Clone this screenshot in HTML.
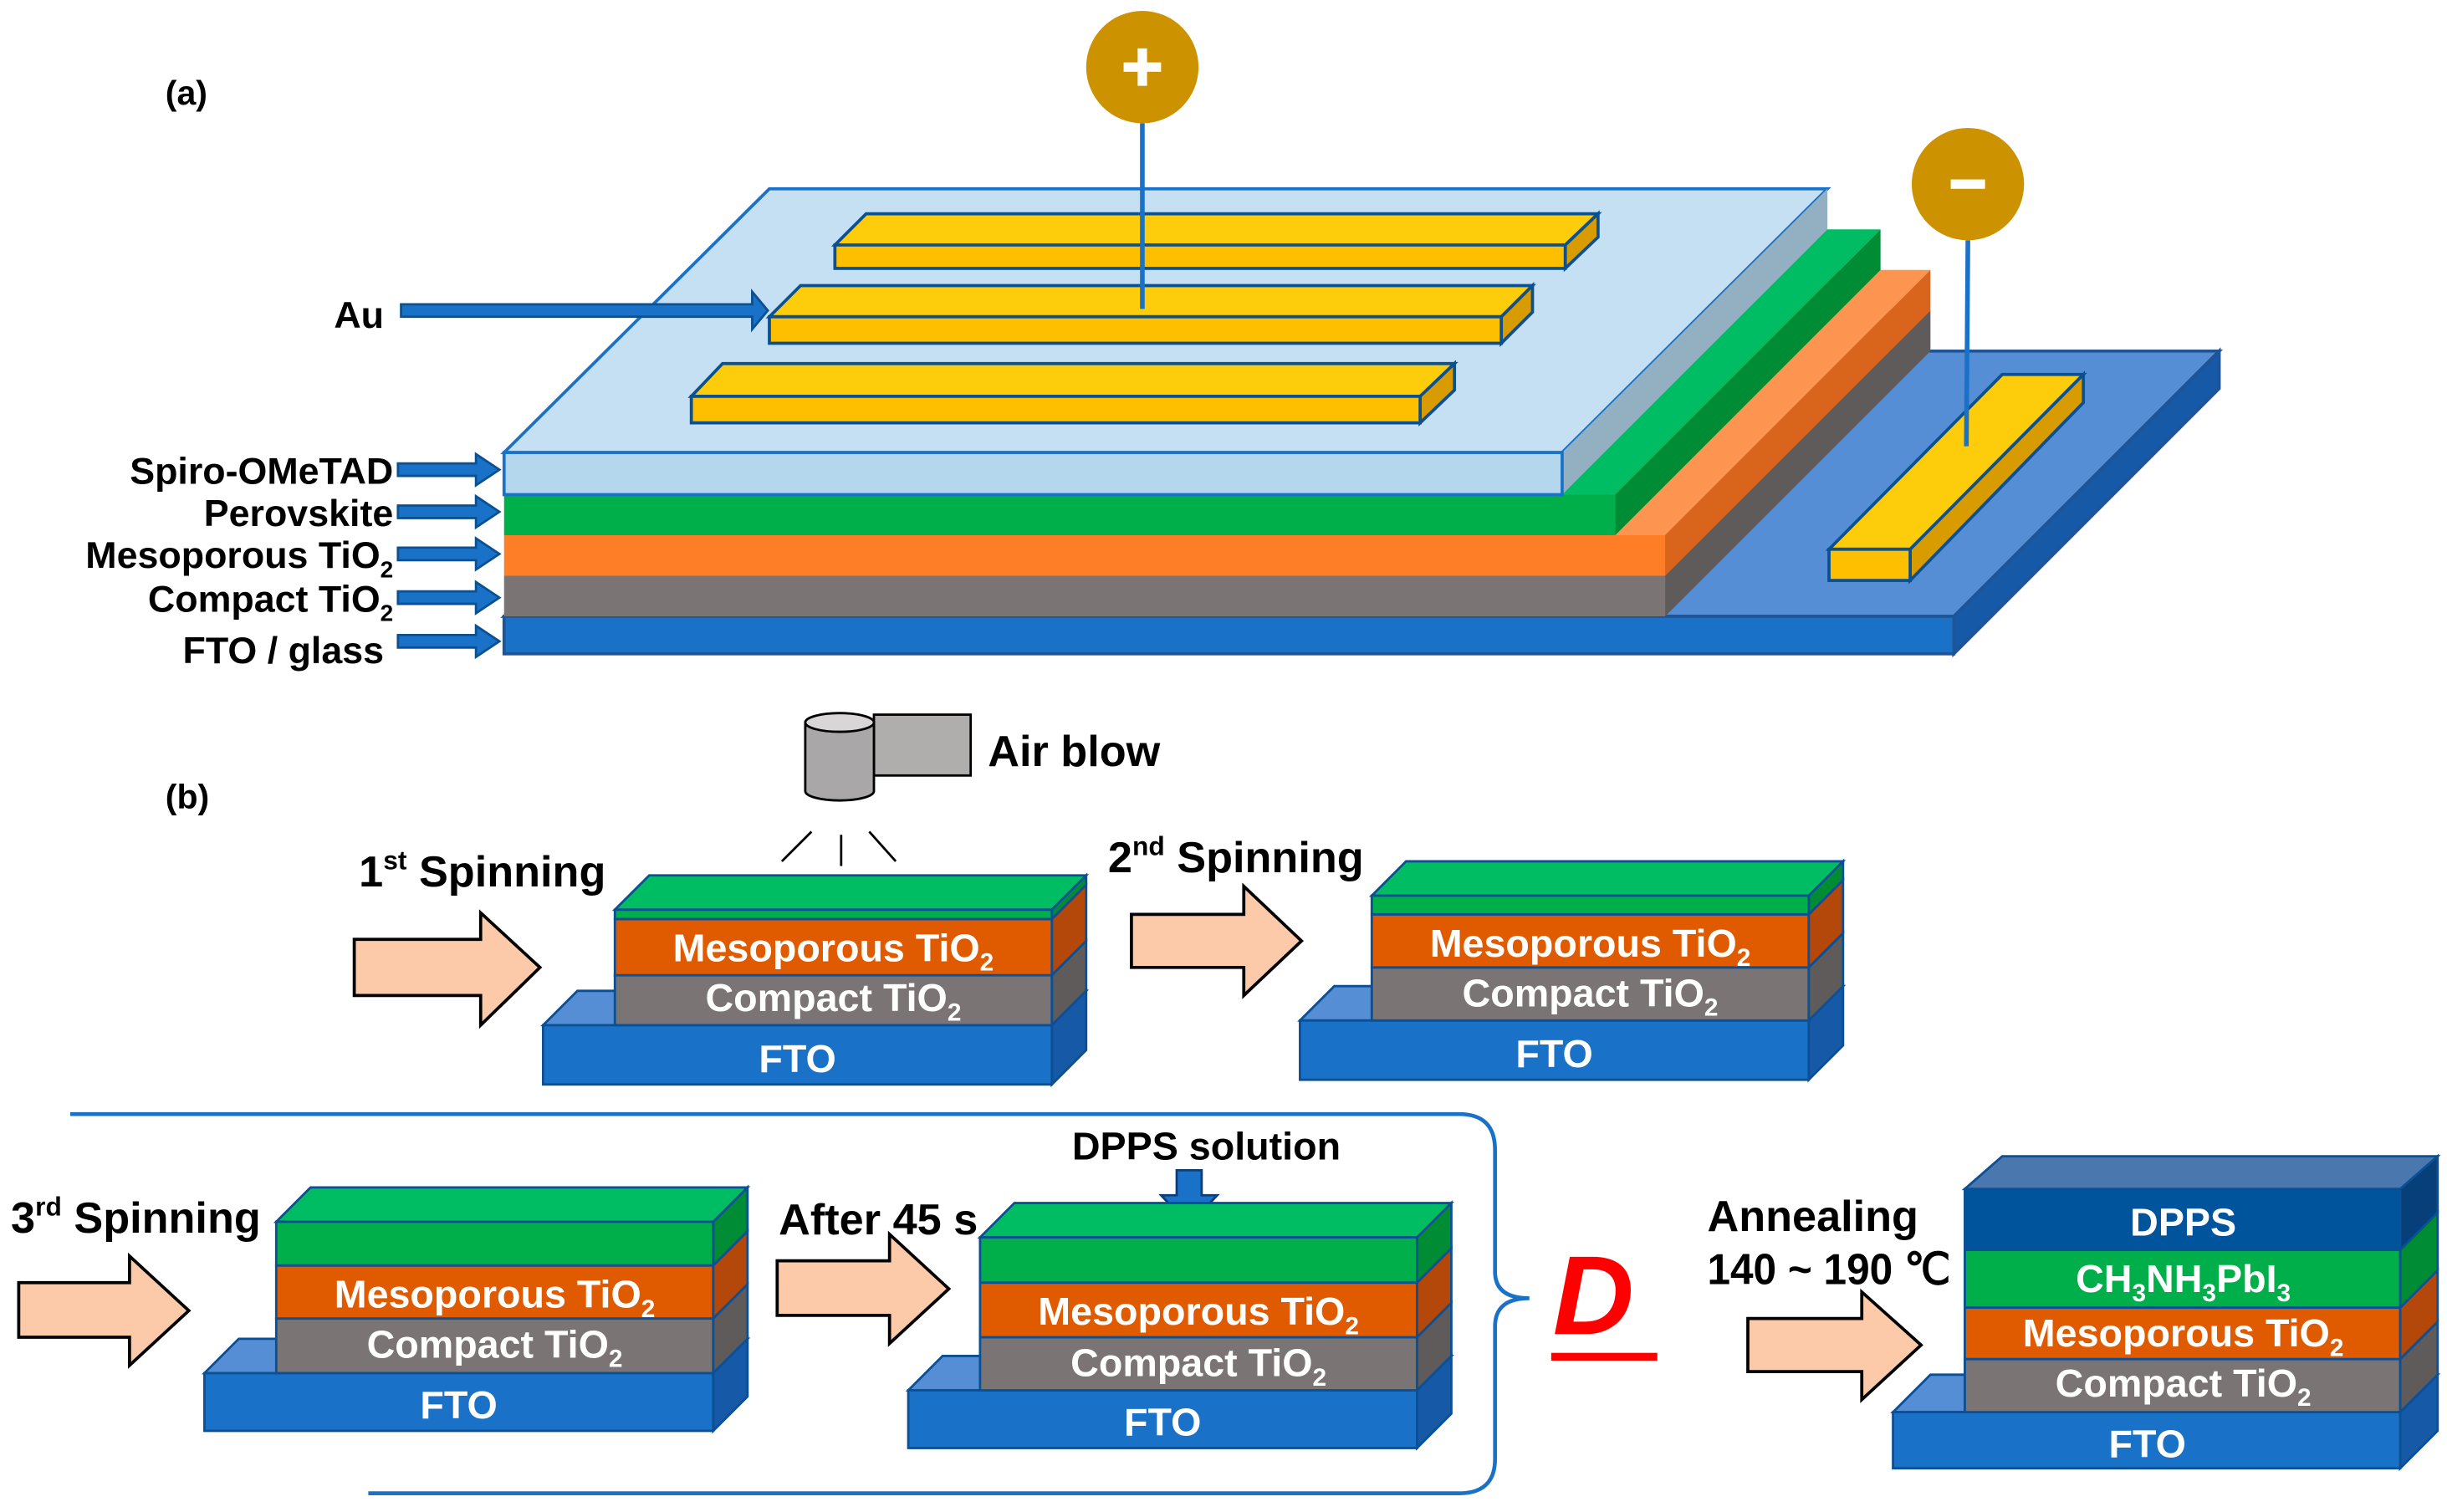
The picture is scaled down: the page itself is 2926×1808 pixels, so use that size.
<!DOCTYPE html>
<html><head><meta charset="utf-8"><style>html,body{margin:0;padding:0;background:#fff}svg{display:block}text{font-family:"Liberation Sans",sans-serif;font-weight:bold}</style></head>
<body>
<svg width="2926" height="1808" viewBox="0 0 1568 969" preserveAspectRatio="none" xmlns="http://www.w3.org/2000/svg">
<g stroke-linejoin="miter">
<polygon points="323,395 1252,395 1422,225 495,225" fill="#558ed5" stroke="#1f5597" stroke-width="2"/>
<polygon points="1252,395 1422,225 1422,249 1252,419" fill="#1659a6" stroke="#1f5597" stroke-width="2"/>
<rect x="323" y="395" width="929" height="24" fill="#1a72c8" stroke="#1f5597" stroke-width="2"/>
<polygon points="323,369 1067,369 1237,199 493,199" fill="#7a7474"/>
<polygon points="1067,369 1237,199 1237,225 1067,395" fill="#5f5b5b"/>
<rect x="323" y="369" width="744" height="26" fill="#7a7474"/>
<polygon points="323,343 1067,343 1237,173 493,173" fill="#fd9450"/>
<polygon points="1067,343 1237,173 1237,199 1067,369" fill="#d9651c"/>
<rect x="323" y="343" width="744" height="26" fill="#fd7e26"/>
<polygon points="323,317 1035,317 1205,147 493,147" fill="#00bd64"/>
<polygon points="1035,317 1205,147 1205,173 1035,343" fill="#008c35"/>
<rect x="323" y="317" width="712" height="26" fill="#00af4a"/>
<polygon points="323,290 1001,290 1171,121 493,121" fill="#c4e0f2" stroke="#1a72c8" stroke-width="2"/>
<polygon points="1001,290 1171,121 1171,147 1001,317" fill="#93afc2"/>
<rect x="323" y="290" width="678" height="27" fill="#b4d7ee" stroke="#1a72c8" stroke-width="2"/>
<g stroke="#0b5091" stroke-width="2">
<polygon points="535,157 555,137 1024,137 1003,157" fill="#fdcc0a"/>
<polygon points="1003,157 1024,137 1024,152 1003,172" fill="#d99c00"/>
<rect x="535" y="157" width="468" height="15" fill="#fdbf00"/>
<polygon points="493,203 513,183 982,183 962,203" fill="#fdcc0a"/>
<polygon points="962,203 982,183 982,200 962,220" fill="#d99c00"/>
<rect x="493" y="203" width="469" height="17" fill="#fdbf00"/>
<polygon points="443,254 463,233 932,233 910,254" fill="#fdcc0a"/>
<polygon points="910,254 932,233 932,250 910,271" fill="#d99c00"/>
<rect x="443" y="254" width="467" height="17" fill="#fdbf00"/>
<polygon points="1172,352 1283,240 1335,240 1224,352" fill="#fdcc0a"/>
<polygon points="1224,352 1335,240 1335,258 1224,372" fill="#d99c00"/>
<rect x="1172" y="352" width="52" height="20" fill="#fdbf00"/>
</g>
<line x1="732" y1="79" x2="732" y2="198" stroke="#1a72c8" stroke-width="3"/>
<line x1="1261" y1="154" x2="1260" y2="286" stroke="#1a72c8" stroke-width="3"/>
<circle cx="732" cy="43" r="36" fill="#cc9200"/>
<circle cx="1261" cy="118" r="36" fill="#cc9200"/>
<rect x="720" y="40" width="24" height="6" fill="#fff"/><rect x="729" y="31" width="6" height="24" fill="#fff"/>
<rect x="1250" y="115" width="22" height="6" fill="#fff"/>
<g fill="#1a72c8" stroke="#0b5091" stroke-width="1.5">
<polygon points="257,195 482,195 482,187 492,199 482,211 482,203 257,203"/>
<polygon points="255,297 305,297 305,291 320,301 305,311 305,305 255,305"/>
<polygon points="255,324 305,324 305,318 320,328 305,338 305,332 255,332"/>
<polygon points="255,351 305,351 305,345 320,355 305,365 305,359 255,359"/>
<polygon points="255,379 305,379 305,373 320,383 305,393 305,387 255,387"/>
<polygon points="255,407 305,407 305,401 320,411 305,421 305,415 255,415"/>
</g>
<g font-size="22" fill="#000">
<text x="106" y="67">(a)</text>
<text x="106" y="518">(b)</text>
</g>
<g font-size="24" fill="#000">
<text x="214" y="210">Au</text>
<text x="252" y="310" text-anchor="end">Spiro-OMeTAD</text>
<text x="252" y="337" text-anchor="end">Perovskite</text>
<text x="252" y="364" text-anchor="end">Mesoporous TiO<tspan font-size="15" dy="6">2</tspan></text>
<text x="252" y="392" text-anchor="end">Compact TiO<tspan font-size="15" dy="6">2</tspan></text>
<text x="246" y="425" text-anchor="end">FTO / glass</text>
</g>
<g font-size="28" fill="#000">
<text x="230" y="568">1<tspan font-size="17" dy="-11">st</tspan><tspan dy="11"> Spinning</tspan></text>
<text x="710" y="559">2<tspan font-size="17" dy="-11">nd</tspan><tspan dy="11"> Spinning</tspan></text>
<text x="7" y="790">3<tspan font-size="17" dy="-11">rd</tspan><tspan dy="11"> Spinning</tspan></text>
<text x="499" y="791">After 45 s</text>
<text x="773" y="743" text-anchor="middle" font-size="25">DPPS solution</text>
<text x="1094" y="789">Annealing</text>
<text x="1094" y="823" textLength="156" lengthAdjust="spacingAndGlyphs">140 ~ 190 ℃</text>
<text x="633" y="491">Air blow</text>
</g>
<rect x="560" y="458" width="62" height="39" fill="#b0adad" stroke="#000" stroke-width="1.5"/>
<path d="M516,463 L516,507 A22,6 0 0 0 560,507 L560,463" fill="#a9a7a7" stroke="#000" stroke-width="1.5"/>
<ellipse cx="538" cy="463" rx="22" ry="6" fill="#d8d6d6" stroke="#000" stroke-width="1.5"/>
<g stroke="#000" stroke-width="1.5"><line x1="520" y1="533" x2="501" y2="552"/><line x1="539" y1="535" x2="539" y2="555"/><line x1="557" y1="533" x2="574" y2="552"/></g>
<g fill="#fccaa9" stroke="#000" stroke-width="2">
<polygon points="227,602 308,602 308,585 346,620 308,657 308,638 227,638"/>
<polygon points="725,586 797,586 797,568 834,603 797,638 797,620 725,620"/>
<polygon points="12,822 83,822 83,805 121,840 83,875 83,857 12,857"/>
<polygon points="498,808 570,808 570,791 608,826 570,861 570,843 498,843"/>
<polygon points="1120,845 1193,845 1193,828 1231,862 1193,897 1193,879 1120,879"/>
</g>
<path d="M45,714 L935,714 Q958,714 958,737 L958,815 Q958,832 980,832 Q958,832 958,850 L958,935 Q958,957 935,957 L236,957" fill="none" stroke="#1a72c8" stroke-width="2.5"/>
<text x="995" y="855" font-size="72" font-style="italic" fill="#ff0000">D</text>
<rect x="994" y="867" width="68" height="5" fill="#ff0000"/>
<polygon points="754,750 770,750 770,766 780,766 762,785 744,766 754,766" fill="#1a72c8" stroke="#0b3f7a" stroke-width="1.5"/>
<g stroke="#0b4f95" stroke-width="1.5">
<polygon points="348,657 674,657 696,635 370,635" fill="#558ed5"/>
<polygon points="674,657 696,635 696,673 674,695" fill="#1659a6"/>
<rect x="348" y="657" width="326" height="38" fill="#1a72c8"/>
<polygon points="674,625 696,603 696,635 674,657" fill="#5f5b5b"/>
<rect x="394" y="625" width="280" height="32" fill="#7a7474"/>
<polygon points="674,589 696,567 696,603 674,625" fill="#b4480a"/>
<rect x="394" y="589" width="280" height="36" fill="#e05a00"/>
<polygon points="394,583 674,583 696,561 416,561" fill="#00bd64"/>
<polygon points="674,583 696,561 696,567 674,589" fill="#008c35"/>
<rect x="394" y="583" width="280" height="6" fill="#00af4a"/>
<polygon points="833,654 1159,654 1181,632 855,632" fill="#558ed5"/>
<polygon points="1159,654 1181,632 1181,670 1159,692" fill="#1659a6"/>
<rect x="833" y="654" width="326" height="38" fill="#1a72c8"/>
<polygon points="1159,620 1181,598 1181,632 1159,654" fill="#5f5b5b"/>
<rect x="879" y="620" width="280" height="34" fill="#7a7474"/>
<polygon points="1159,586 1181,564 1181,598 1159,620" fill="#b4480a"/>
<rect x="879" y="586" width="280" height="34" fill="#e05a00"/>
<polygon points="879,574 1159,574 1181,552 901,552" fill="#00bd64"/>
<polygon points="1159,574 1181,552 1181,564 1159,586" fill="#008c35"/>
<rect x="879" y="574" width="280" height="12" fill="#00af4a"/>
<polygon points="131,880 457,880 479,858 153,858" fill="#558ed5"/>
<polygon points="457,880 479,858 479,895 457,917" fill="#1659a6"/>
<rect x="131" y="880" width="326" height="37" fill="#1a72c8"/>
<polygon points="457,845 479,823 479,858 457,880" fill="#5f5b5b"/>
<rect x="177" y="845" width="280" height="35" fill="#7a7474"/>
<polygon points="457,811 479,789 479,823 457,845" fill="#b4480a"/>
<rect x="177" y="811" width="280" height="34" fill="#e05a00"/>
<polygon points="177,783 457,783 479,761 199,761" fill="#00bd64"/>
<polygon points="457,783 479,761 479,789 457,811" fill="#008c35"/>
<rect x="177" y="783" width="280" height="28" fill="#00af4a"/>
<polygon points="582,891 908,891 930,869 604,869" fill="#558ed5"/>
<polygon points="908,891 930,869 930,906 908,928" fill="#1659a6"/>
<rect x="582" y="891" width="326" height="37" fill="#1a72c8"/>
<polygon points="908,857 930,835 930,869 908,891" fill="#5f5b5b"/>
<rect x="628" y="857" width="280" height="34" fill="#7a7474"/>
<polygon points="908,822 930,800 930,835 908,857" fill="#b4480a"/>
<rect x="628" y="822" width="280" height="35" fill="#e05a00"/>
<polygon points="628,793 908,793 930,771 650,771" fill="#00bd64"/>
<polygon points="908,793 930,771 930,800 908,822" fill="#008c35"/>
<rect x="628" y="793" width="280" height="29" fill="#00af4a"/>
<polygon points="1213,905 1538,905 1562,881 1237,881" fill="#558ed5"/>
<polygon points="1538,905 1562,881 1562,917 1538,941" fill="#1659a6"/>
<rect x="1213" y="905" width="325" height="36" fill="#1a72c8"/>
<polygon points="1538,871 1562,847 1562,881 1538,905" fill="#5f5b5b"/>
<rect x="1259" y="871" width="279" height="34" fill="#7a7474"/>
<polygon points="1538,838 1562,814 1562,847 1538,871" fill="#b4480a"/>
<rect x="1259" y="838" width="279" height="33" fill="#e05a00"/>
<polygon points="1538,801 1562,777 1562,814 1538,838" fill="#008c35"/>
<rect x="1259" y="801" width="279" height="37" fill="#00af4a"/>
<polygon points="1259,762 1538,762 1562,741 1283,741" fill="#4a78ae"/>
<polygon points="1538,762 1562,741 1562,777 1538,801" fill="#063f7a"/>
<rect x="1259" y="762" width="279" height="39" fill="#00549c"/>
</g>
<g font-size="25" fill="#fff" text-anchor="middle">
<text x="534" y="616">Mesoporous TiO<tspan font-size="16" dy="6">2</tspan></text>
<text x="534" y="648">Compact TiO<tspan font-size="16" dy="6">2</tspan></text>
<text x="511" y="687">FTO</text>
<text x="1019" y="613">Mesoporous TiO<tspan font-size="16" dy="6">2</tspan></text>
<text x="1019" y="645">Compact TiO<tspan font-size="16" dy="6">2</tspan></text>
<text x="996" y="684">FTO</text>
<text x="317" y="838">Mesoporous TiO<tspan font-size="16" dy="6">2</tspan></text>
<text x="317" y="870">Compact TiO<tspan font-size="16" dy="6">2</tspan></text>
<text x="294" y="909">FTO</text>
<text x="768" y="849">Mesoporous TiO<tspan font-size="16" dy="6">2</tspan></text>
<text x="768" y="882">Compact TiO<tspan font-size="16" dy="6">2</tspan></text>
<text x="745" y="920">FTO</text>
<text x="1399" y="792">DPPS</text>
<text x="1399" y="828">CH<tspan font-size="16" dy="6">3</tspan><tspan dy="-6">NH</tspan><tspan font-size="16" dy="6">3</tspan><tspan dy="-6">PbI</tspan><tspan font-size="16" dy="6">3</tspan></text>
<text x="1399" y="863">Mesoporous TiO<tspan font-size="16" dy="6">2</tspan></text>
<text x="1399" y="895">Compact TiO<tspan font-size="16" dy="6">2</tspan></text>
<text x="1376" y="934">FTO</text>
</g>
</g>
</svg>
</body></html>
